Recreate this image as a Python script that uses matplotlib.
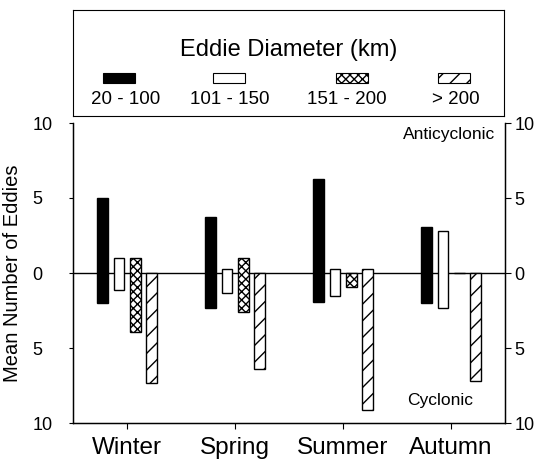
import numpy as np
import matplotlib
matplotlib.use('Agg')
import matplotlib.pyplot as plt
from matplotlib.patches import Rectangle

# ── Data ───────────────────────────────────────────────────────────────────────
seasons = ['Winter', 'Spring', 'Summer', 'Autumn']
size_classes = ['20 - 100', '101 - 150', '151 - 200', '> 200']

# anticyclonic (up) and cyclonic (down) mean counts per size class
anti_20_100 = [5.0, 3.7, 6.3, 3.1]
cyc_20_100 = [2.0, 2.3, 1.9, 2.0]
anti_101_150 = [1.0, 0.3, 0.3, 2.8]
cyc_101_150 = [1.1, 1.3, 1.5, 2.3]
anti_151_200 = [1.0, 1.0, 0.0, 0.0]
cyc_151_200 = [3.9, 2.6, 0.9, 0.0]
anti_200 = [0.0, 0.0, 0.3, 0.0]
cyc_200 = [7.3, 6.4, 9.1, 7.2]

anti = [anti_20_100, anti_101_150, anti_151_200, anti_200]
cyc = [cyc_20_100, cyc_101_150, cyc_151_200, cyc_200]

# styles per size class: (facecolor, hatch)
styles = [('black', None), ('white', None), ('white', 'xxxx'), ('white', '//')]

plt.rcParams['font.family'] = ['Liberation Sans', 'DejaVu Sans']
plt.rcParams['hatch.linewidth'] = 1.0

fig = plt.figure(figsize=(5.39, 4.69), dpi=100)
W, H = 539, 469

# ── Main axes ──────────────────────────────────────────────────────────────────
ax = fig.add_axes([73 / W, (H - 423) / H, 432 / W, 300 / H])
x = np.arange(len(seasons)) + 0.5
width = 0.1
offsets = [-0.225, -0.075, 0.075, 0.225]

for k in range(len(size_classes)):
    fc, hatch = styles[k]
    bottoms = -np.array(cyc[k])
    heights = np.array(anti[k]) + np.array(cyc[k])
    ax.bar(x + offsets[k], heights, width=width, bottom=bottoms,
           color=fc, edgecolor='black', hatch=hatch, linewidth=1.0, zorder=2)

ax.axhline(0, color='black', linewidth=1.0, zorder=1)

ax.set_xlim(0, 4)
ax.set_ylim(-10, 10)
yt = [-10, -5, 0, 5, 10]
ax.set_yticks(yt)
ax.set_yticklabels([str(abs(v)) for v in yt], fontsize=13, ha='left')
ax.tick_params(axis='y', direction='out', length=3, pad=26)
ax.set_xticks(x)
ax.set_xticklabels(seasons, fontsize=17.5)
ax.tick_params(axis='x', direction='out', length=4, pad=6)

ax.spines['top'].set_visible(False)
for s in ['left', 'right', 'bottom']:
    ax.spines[s].set_linewidth(1.0)

ax.set_ylabel('Mean Number of Eddies', fontsize=14.5)
ax.yaxis.set_label_coords(-0.118, 0.5)

ax2 = ax.twinx()
ax2.set_ylim(-10, 10)
ax2.set_yticks(yt)
ax2.set_yticklabels([str(abs(v)) for v in yt], fontsize=13)
ax2.tick_params(axis='y', direction='out', length=4, pad=3)
ax2.spines['top'].set_visible(False)

ax.text(3.91, 9.2, 'Anticyclonic', ha='right', va='center', fontsize=12.5)
ax.text(3.4, -8.5, 'Cyclonic', ha='center', va='center', fontsize=12.5)

# ── Legend box ─────────────────────────────────────────────────────────────────
lg = fig.add_axes([73 / W, (H - 116) / H, 431 / W, 106 / H])
lg.set_xticks([])
lg.set_yticks([])
lg.set_xlim(0, 1)
lg.set_ylim(0, 1)
lg.text(0.5, 0.62, 'Eddie Diameter (km)', ha='center', va='center', fontsize=17)

key_x = [0.107, 0.362, 0.647, 0.884]
lab_x = [0.123, 0.364, 0.636, 0.889]
kw, kh = 0.074, 0.094
for k, lab in enumerate(size_classes):
    fc, hatch = styles[k]
    lg.add_patch(Rectangle((key_x[k] - kw / 2, 0.358 - kh / 2), kw, kh,
                           facecolor=fc, edgecolor='black', hatch=hatch,
                           linewidth=0.8))
    lg.text(lab_x[k], 0.151, lab, ha='center', va='center', fontsize=13.5)

fig.savefig('out.png', dpi=100)
